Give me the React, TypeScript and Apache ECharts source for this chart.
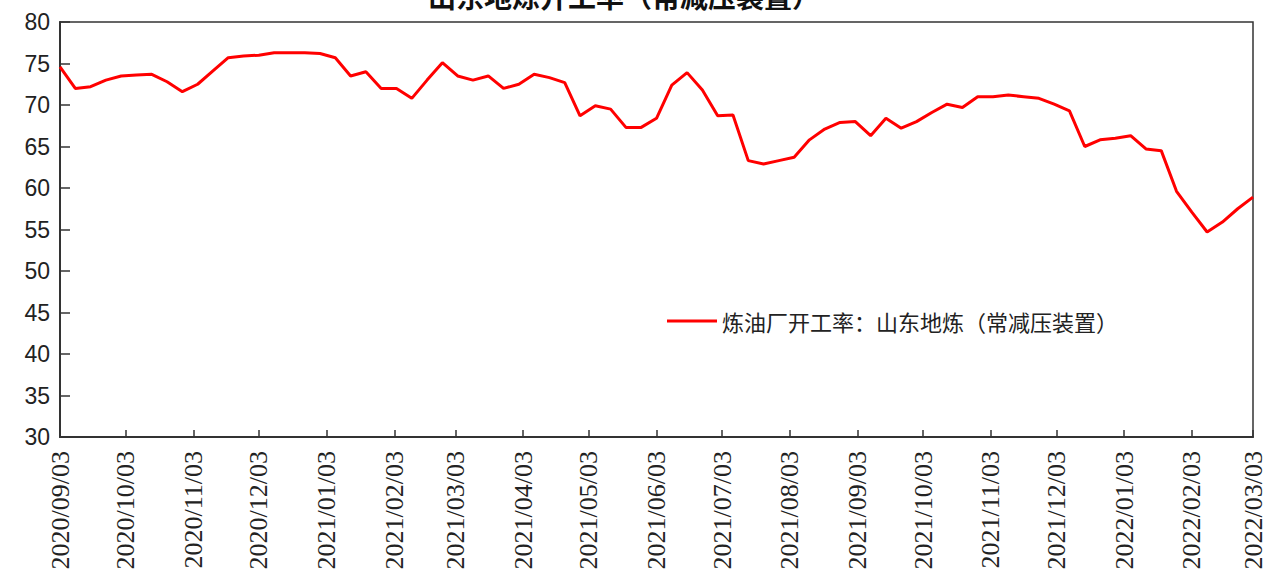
import React, { useEffect, useRef } from "react";
import * as echarts from "echarts";

// Weekly refinery run rate (Shandong independent refineries, CDU), first week 2020/09/03
const startDate = { year: 2020, month: 9, day: 3 };
const endDate = { year: 2022, month: 3, day: 3 };
const runRate: number[] = [
  74.6, 72.0, 72.2, 73.0, 73.5, 73.6, 73.7, 72.8, 71.6, 72.5,
  74.1, 75.7, 75.9, 76.0, 76.3, 76.3, 76.3, 76.2, 75.7, 73.5,
  74.0, 72.0, 72.0, 70.8, 73.0, 75.1, 73.5, 73.0, 73.5, 72.0,
  72.5, 73.7, 73.3, 72.7, 68.7, 69.9, 69.5, 67.3, 67.3, 68.4,
  72.4, 73.9, 71.8, 68.7, 68.8, 63.3, 62.9, 63.3, 63.7, 65.8,
  67.1, 67.9, 68.0, 66.3, 68.4, 67.2, 68.0, 69.1, 70.1, 69.7,
  71.0, 71.0, 71.2, 71.0, 70.8, 70.1, 69.3, 65.0, 65.8, 66.0,
  66.3, 64.7, 64.5, 59.6, 57.1, 54.7, 55.9, 57.5, 58.9,
];
const titleText = "山东地炼开工率（常减压装置）";
const seriesName = "炼油厂开工率：山东地炼（常减压装置）";
const yTicks = { min: 30, max: 80, step: 5 };

const DAY = 86400000;
const pad = (n: number) => (n < 10 ? "0" + n : "" + n);
const fmt = (t: number) => {
  const d = new Date(t);
  return `${d.getUTCFullYear()}/${pad(d.getUTCMonth() + 1)}/${pad(d.getUTCDate())}`;
};

// one category per calendar day so month ticks land on their true dates
const t0 = Date.UTC(startDate.year, startDate.month - 1, startDate.day);
const t1 = Date.UTC(endDate.year, endDate.month - 1, endDate.day);
const dayCategories: string[] = [];
for (let t = t0; t <= t1; t += DAY) dayCategories.push(fmt(t));

const weeklyPoints = runRate.map((v, i) => [fmt(t0 + i * 7 * DAY), v]);

const isMonthMark = (_idx: number, value: string) => value.endsWith("/03");

export default function App() {
  const ref = useRef<HTMLDivElement>(null);

  useEffect(() => {
    if (!ref.current) return;
    const chart = echarts.init(ref.current, undefined, { renderer: "svg" });
    chart.setOption({
      animation: false,
      backgroundColor: "#ffffff",
      title: {
        text: titleText,
        left: 423,
        top: -23,
        textStyle: {
          fontSize: 28,
          fontWeight: "bold",
          fontFamily: "Noto Sans CJK SC",
          color: "#111",
        },
      },
      legend: {
        left: 662,
        top: 305,
        icon: "rect",
        itemWidth: 50,
        itemHeight: 3,
        textStyle: {
          fontSize: 22,
          fontFamily: "Noto Sans CJK SC",
          color: "#222",
        },
        data: [seriesName],
      },
      grid: {
        left: 60,
        right: 10,
        top: 22,
        bottom: 140,
        outerBoundsMode: "none",
        show: true,
        borderColor: "#333",
        borderWidth: 1.5,
      },
      xAxis: {
        type: "category",
        data: dayCategories,
        boundaryGap: false,
        axisLine: { lineStyle: { color: "#333", width: 2 } },
        axisTick: {
          inside: true,
          length: 7,
          interval: isMonthMark,
          lineStyle: { color: "#333", width: 1.5 },
        },
        axisLabel: {
          interval: isMonthMark,
          rotate: 90,
          margin: 14,
          fontSize: 26,
          fontFamily: "Liberation Serif",
          color: "#222",
        },
        splitLine: { show: false },
      },
      yAxis: {
        type: "value",
        min: yTicks.min,
        max: yTicks.max,
        interval: yTicks.step,
        axisLine: { show: true, lineStyle: { color: "#333", width: 2 } },
        axisTick: {
          show: true,
          inside: true,
          length: 10,
          lineStyle: { color: "#333", width: 1.5 },
        },
        axisLabel: {
          margin: 10,
          fontSize: 23,
          fontFamily: "Liberation Sans",
          color: "#222",
        },
        splitLine: { show: false },
      },
      series: [
        {
          name: seriesName,
          type: "line",
          data: weeklyPoints,
          showSymbol: false,
          symbol: "none",
          connectNulls: true,
          lineStyle: { color: "#ff0000", width: 3 },
          itemStyle: { color: "#ff0000" },
        },
      ],
    });
    return () => chart.dispose();
  }, []);

  return (
    <div
      ref={ref}
      style={{ position: "fixed", left: 0, top: 0, width: 1263, height: 577 }}
    />
  );
}
